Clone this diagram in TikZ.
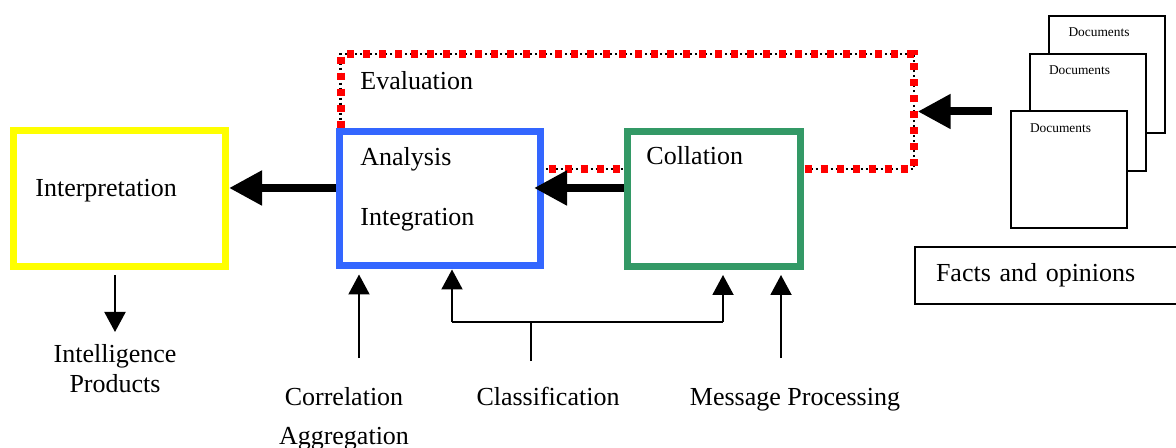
\documentclass[tikz,border=0pt]{standalone}
\usepackage{fontspec}
\setmainfont{Liberation Serif}
\usetikzlibrary{arrows.meta, positioning}
\definecolor{interpyellow}{HTML}{FFFF00}
\definecolor{analysisblue}{HTML}{3366FF}
\definecolor{collationgreen}{HTML}{339966}
\definecolor{evalred}{HTML}{FF0000}
\tikzstyle{stage} = [draw, rectangle, line width=3.5pt, fill=white, inner sep=0pt]
\tikzstyle{interp} = [stage, draw=interpyellow]
\tikzstyle{analysis} = [stage, draw=analysisblue]
\tikzstyle{collation} = [stage, draw=collationgreen]
\tikzstyle{evaluation} = [rectangle, inner sep=0pt, draw=evalred, line width=3.8pt, dash pattern=on 3.8pt off 4.2pt, preaction={draw=black, line width=1.3pt, dash pattern=on 1pt off 1.5pt}]
\tikzstyle{document} = [draw, rectangle, line width=1pt, fill=white, inner sep=0pt, minimum width=58pt, minimum height=58.5pt]
\tikzstyle{caption} = [font=\fontsize{13}{15}\selectfont, inner sep=0pt]
\tikzstyle{doctext} = [font=\fontsize{6.7}{8}\selectfont, inner sep=0pt]
\tikzstyle{flow} = [-{Triangle[length=16.5pt, width=16.5pt]}, line width=4pt]
\tikzstyle{path} = [-{Triangle[length=10pt, width=10.5pt]}, line width=1pt]
\tikzstyle{link} = [line width=1pt]

\begin{document}
\begin{tikzpicture}[x=0.5pt, y=-0.5pt]
    \useasboundingbox (0,0) rectangle (1176,448);

    % Evaluation loop, behind the stages.
    \node (eval) [evaluation, minimum width=286.6pt, minimum height=57.5pt] at (627.3,111.5) {};

    % Stages.
    \node (interp) [interp, minimum width=106pt, minimum height=67.75pt] at (119.5,198.75) {};
    \node (analysis) [analysis, minimum width=100.5pt, minimum height=67pt] at (440,199) {};
    \node (collation) [collation, minimum width=86.75pt, minimum height=67.25pt] at (713.75,199.25) {};

    \node [caption, anchor=base west] at (35,197) {Interpretation};
    \node [caption, anchor=base west] at (360,90) {Evaluation};
    \node [caption, anchor=base west] at (360,166) {Analysis};
    \node [caption, anchor=base west] at (360,226) {Integration};
    \node [caption, anchor=base west] at (646,165) {Collation};

    % Documents.
    \foreach\n/\x/\y in {back/1107/74.5, middle/1087.5/112.5, front/1068.5/170} {
        \node (doc\n) [document] at (\x,\y) {};
        \node [doctext, anchor=base] at ([xshift=-4pt, yshift=-11pt]doc\n.north) {Documents};
    }
    \node (facts) [draw, line width=1pt, caption, anchor=west, text width=112pt, inner xsep=10.5pt,
        minimum width=133pt, minimum height=28.5pt] at (914,275.5) {Facts and opinions};

    % Outputs and inputs.
    \node (products) [caption, anchor=north, align=center] at (115,344) {Intelligence\\Products};
    \node (correlation) [caption, anchor=north, align=center] at (344,387) {Correlation\\[4.5pt]Aggregation};
    \node (classification) [caption, anchor=base] at (548,405) {Classification};
    \node (message) [caption, anchor=base] at (795,405) {Message Processing};

    \coordinate (stream) at (0,188);
    \coordinate (corr) at (359,358);
    \coordinate (stem) at (531,361);
    \coordinate (fork) at (531,322);
    \coordinate (forkL) at (452,322);
    \coordinate (forkR) at (723,322);
    \coordinate (msg) at (781,358);

    % Arrows.
    \draw [flow] (analysis.west |- stream) -- (interp.east |- stream);
    \draw [flow, shorten >=-5pt] (collation.west |- stream) -- (analysis.east |- stream);
    \draw [flow, shorten <=9pt] (docfront.west |- eval.east) -- (eval.east);

    \draw [path, shorten <=2.5pt] (interp.south -| products) -- ++(0,62);
    \draw [path, shorten >=2.5pt] (corr) -- (corr |- analysis.south);
    \draw [path] (forkL) -- (forkL |- analysis.south);
    \draw [path, shorten >=2.5pt] (forkR) -- (forkR |- collation.south);
    \draw [link] (forkL) -- (forkR);
    \draw [link] (stem) -- (fork);
    \draw [path, shorten >=2.5pt] (msg) -- (msg |- collation.south);
\end{tikzpicture}
\end{document}
